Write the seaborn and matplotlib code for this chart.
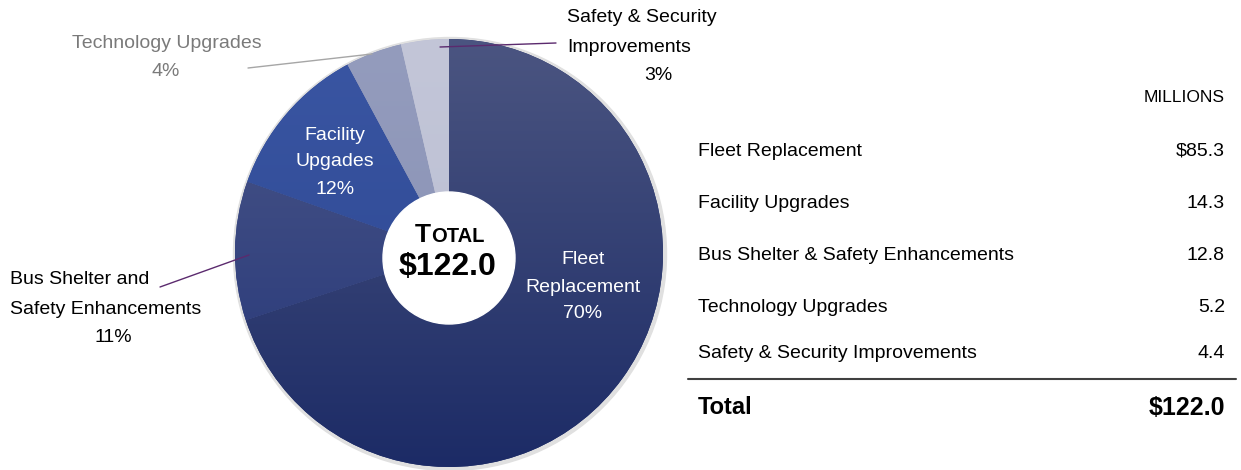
import numpy as np
import matplotlib
matplotlib.use("Agg")
import matplotlib.pyplot as plt
import seaborn as sns
from matplotlib import font_manager
from matplotlib.colors import LinearSegmentedColormap
from matplotlib.patches import Circle

# data (millions), in pie order: clockwise from 12 o'clock
categories = ["Fleet Replacement", "Bus Shelter & Safety Enhancements", "Facility Upgrades",
              "Technology Upgrades", "Safety & Security Improvements"]
amounts = [85.3, 12.8, 14.3, 5.2, 4.4]
pct_labels = ["70%", "11%", "12%", "4%", "3%"]

# table, in its own order
table_names = ["Fleet Replacement", "Facility Upgrades", "Bus Shelter & Safety Enhancements",
               "Technology Upgrades", "Safety & Security Improvements"]
table_values = ["$85.3", "14.3", "12.8", "5.2", "4.4"]
total_text = "$122.0"

# wedge colours (top, bottom) for a vertical gradient
wedge_cols = [("#4b5581", "#1c2b66"), ("#4d5888", "#223478"), ("#3a56a3", "#2b458f"),
              ("#949cbd", "#868fb3"), ("#c3c6d8", "#b9bdd2")]

sns.set_style("white")
names = {f.name for f in font_manager.fontManager.ttflist}
narrow = "Liberation Sans Narrow" if "Liberation Sans Narrow" in names else "Liberation Sans"
plt.rcParams["font.family"] = [narrow, "DejaVu Sans"]
plt.rcParams["text.color"] = "black"

W, H = 1241, 470
fig = plt.figure(figsize=(W / 100, H / 100), dpi=100)
ax = fig.add_axes([0, 0, 1, 1])


def Y(y):
    return H - y


cx, cy, r = 449, Y(253), 214

# faint shadow
ax.add_patch(Circle((cx + 1, cy - 1), r + 2.5, color="#e0e0e0", zorder=0))

wedges, _ = ax.pie(amounts, startangle=90, counterclock=False, center=(cx, cy), radius=r,
                   colors=[c[1] for c in wedge_cols], wedgeprops=dict(linewidth=0),
                   frame=True)
ax.set_xlim(0, W)
ax.set_ylim(0, H)
ax.set_aspect("equal")
ax.axis("off")

for w, (top, bot) in zip(wedges, wedge_cols):
    cmap = LinearSegmentedColormap.from_list("g", [bot, top])
    grad = np.linspace(0, 1, 256).reshape(-1, 1)
    im = ax.imshow(grad, cmap=cmap, origin="lower", aspect="auto",
                   extent=(cx - r, cx + r, cy - r, cy + r), zorder=1)
    im.set_clip_path(w)

# centre hole
ax.add_patch(Circle((cx, Y(258)), 66, color="white", zorder=3))
ax.text(431, Y(242), "T", fontsize=19, fontweight="bold", family="Liberation Sans",
        ha="right", va="baseline", zorder=4)
ax.text(431, Y(242), "OTAL", fontsize=14.5, fontweight="bold", family="Liberation Sans",
        ha="left", va="baseline", zorder=4)
ax.text(448, Y(275), total_text, fontsize=23, fontweight="bold", family="Liberation Sans",
        ha="center", va="baseline", zorder=4)

fs = 14
# inside labels
for i, t in enumerate(["Fleet", "Replacement", pct_labels[0]]):
    ax.text(583, Y(260 + 27 * i), t, color="white", fontsize=fs, ha="center", va="center", zorder=4)
for i, t in enumerate(["Facility", "Upgades", pct_labels[2]]):
    ax.text(335, Y(135 + 27 * i), t, color="white", fontsize=fs, ha="center", va="center", zorder=4)

# outside labels
ax.text(567, Y(18), "Safety & Security", fontsize=fs, ha="left", va="center")
ax.text(567, Y(47), "Improvements", fontsize=fs, ha="left", va="center")
ax.text(658, Y(76), pct_labels[4], fontsize=fs, ha="center", va="center")
ax.plot([440, 556], [Y(47), Y(43)], color="#5b2a6e", lw=1, zorder=5)

ax.text(167, Y(43), "Technology Upgrades", fontsize=fs, color="#7a7a7a", ha="center", va="center")
ax.text(166, Y(72), pct_labels[3], fontsize=fs, color="#7a7a7a", ha="center", va="center")
ax.plot([248, 372], [Y(68), Y(54)], color="#a6a6a6", lw=1, zorder=5)

ax.text(10, Y(280), "Bus Shelter and", fontsize=fs, ha="left", va="center")
ax.text(10, Y(309), "Safety Enhancements", fontsize=fs, ha="left", va="center")
ax.text(113, Y(338), pct_labels[1], fontsize=fs, ha="center", va="center")
ax.plot([160, 249], [Y(287), Y(255)], color="#5b2a6e", lw=1, zorder=5)

# table
ax.text(1225, Y(98), "MILLIONS", fontsize=12.5, ha="right", va="center")
row_y = [151, 204, 256, 308, 353]
for name, val, yy in zip(table_names, table_values, row_y):
    ax.text(698, Y(yy), name, fontsize=fs, ha="left", va="center")
    ax.text(1225, Y(yy), val, fontsize=fs, ha="right", va="center")
ax.plot([688, 1236], [Y(379), Y(379)], color="#404040", lw=1.5)
ax.text(698, Y(408), "Total", fontsize=17, fontweight="bold", ha="left", va="center")
ax.text(1225, Y(408), total_text, fontsize=18, fontweight="bold", ha="right", va="center")

fig.savefig("out.png", dpi=100)
